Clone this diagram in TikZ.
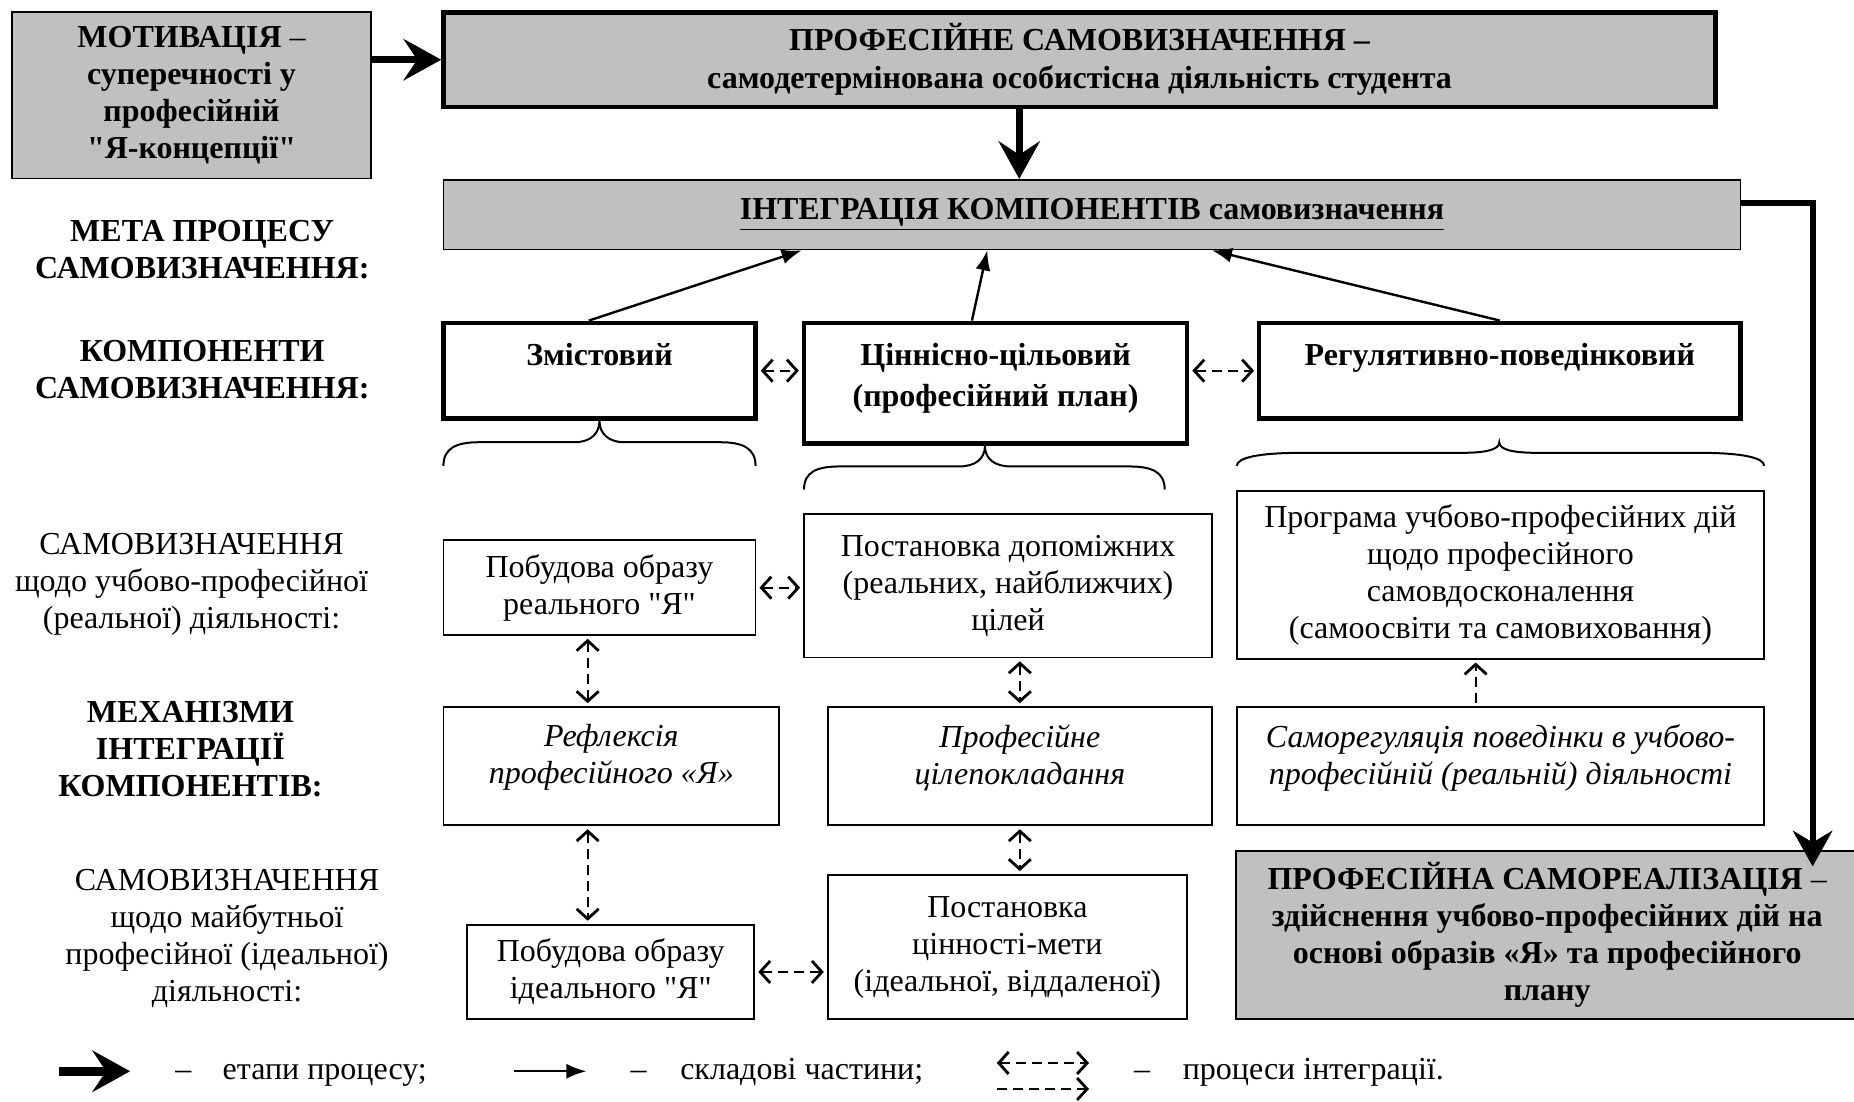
\documentclass[tikz,border=0pt]{standalone}
\usepackage{fontspec}
\setmainfont{Liberation Serif}[Ligatures=TeXOff]
\usetikzlibrary{arrows.meta}
\definecolor{boxgray}{RGB}{192,192,192}
\def\pxu{0.5912pt}
\begin{document}
\begin{tikzpicture}[x=0.5912pt, y=-0.5912pt,
  every node/.style={align=center, inner sep=0pt},
  rm/.style={font=\fontsize{16}{18.5}\selectfont},
  bfs/.style={font=\fontsize{16}{18.5}\selectfont\bfseries},
  its/.style={font=\fontsize{16}{18.5}\selectfont\itshape},
  box/.style={draw, line width=0.9pt, fill=white},
  thickbox/.style={draw, line width=2.2pt, fill=white},
  graybox/.style={draw, fill=boxgray},
  sz/.style 2 args={minimum width=#1*\pxu, minimum height=#2*\pxu},
  bigarrow/.style={line width=3.5pt, -{Stealth[length=19pt,width=21pt,inset=7pt,line width=0.5pt]}},
  rightarrow/.style={line width=3pt, line join=miter, -{Stealth[length=18pt,width=20pt,inset=6pt,line width=0.5pt]}},
  smallarrow/.style={line width=1.2pt, -{Latex[length=10pt,width=7.5pt]}},
  dashboth/.style={line width=1pt, dash pattern=on 5pt off 3pt, shorten >=1.5pt, shorten <=1.5pt,
    >={Straight Barb[length=5pt,width=11pt,line width=1.4pt]}, <->},
  dashone/.style={line width=1pt, dash pattern=on 5pt off 3pt, shorten >=1.5pt, shorten <=1.5pt,
    >={Straight Barb[length=5pt,width=11pt,line width=1.4pt]}, ->},
  brace/.style={line width=1pt}
]
\useasboundingbox (0,0) rectangle (1568,932);

% top row
\node[graybox, line width=0.9pt, sz={304}{141}, bfs] (motiv) at (162,80.5)
  {МОТИВАЦІЯ {\mdseries –}\\суперечності у\\професійній\\"Я-концепції"};
\node[graybox, line width=2.2pt, sz={1076}{80}, font=\fontsize{16}{19}\selectfont\bfseries] (top) at (913,50.5)
  {ПРОФЕСІЙНЕ САМОВИЗНАЧЕННЯ –\\самодетермінована особистісна діяльність студента};
\node[graybox, line width=0.9pt, sz={1097}{59}, bfs] (integ) at (923.5,181.5)
  {\underline{ІНТЕГРАЦІЯ КОМПОНЕНТІВ самовизначення}};

% components
\node[thickbox, sz={264}{81}, bfs, text height=10.8pt, text depth=16pt] (zm) at (507,313.5) {Змістовий};
\node[thickbox, sz={324}{102}, font=\fontsize{16}{20.7}\selectfont\bfseries, text depth=8.5pt] (cin) at (842,324)
  {Ціннісно-цільовий\\(професійний план)};
\node[thickbox, sz={407}{81}, bfs, text height=10.8pt, text depth=16pt] (reg) at (1268.5,313.5) {Регулятивно-поведінковий};

% row 1
\node[box, sz={264}{80}, rm] (real) at (507,497) {Побудова образу\\реального "Я"};
\node[box, sz={345}{121}, rm] (dop) at (852.5,495.5) {Постановка допоміжних\\(реальних, найближчих)\\цілей};
\node[box, sz={446}{142}, rm] (prog) at (1269,486)
  {Програма учбово-професійних дій\\щодо професійного\\самовдосконалення\\(самоосвіти та самовиховання)};

% row 2
\node[box, sz={284}{100}, its, text depth=11.9pt] (refl) at (517,648) {Рефлексія\\професійного «Я»};
\node[box, sz={325}{100}, its, text depth=11.9pt] (cil) at (862.5,648) {Професійне\\цілепокладання};
\node[box, sz={446}{100}, its, text depth=11.9pt] (samoreg) at (1269,648)
  {Саморегуляція поведінки в учбово-\\професійній (реальній) діяльності};

% row 3
\node[box, sz={243}{80}, rm] (ideal) at (516.5,822) {Побудова образу\\ідеального "Я"};
\node[box, sz={304}{122}, rm] (cinm) at (852,801) {Постановка\\цінності-мети\\(ідеальної, віддаленої)};
\node[graybox, line width=0.9pt, sz={527}{142}, bfs] (realiz) at (1308.5,791)
  {ПРОФЕСІЙНА САМОРЕАЛІЗАЦІЯ {\mdseries –}\\здійснення учбово-професійних дій на\\основі образів «Я» та професійного\\плану};

% left labels
\node[bfs] (lMeta) at (171,211.5) {МЕТА ПРОЦЕСУ\\САМОВИЗНАЧЕННЯ:};
\node[bfs] (lKomp) at (171,313) {КОМПОНЕНТИ\\САМОВИЗНАЧЕННЯ:};
\node[rm] (lReal) at (162,494) {САМОВИЗНАЧЕННЯ\\щодо учбово-професійної\\(реальної) діяльності:};
\node[bfs] (lMech) at (161,633.5) {МЕХАНІЗМИ\\ІНТЕГРАЦІЇ\\КОМПОНЕНТІВ:};
\node[rm] (lIdeal) at (192,794) {САМОВИЗНАЧЕННЯ\\щодо майбутньої\\професійної (ідеальної)\\діяльності:};

% stage arrows
\coordinate (cB) at (862,0);
\coordinate (cR) at (1533,172);
\draw[bigarrow] (motiv.east |- top.west) -- (top.west);
\draw[bigarrow] (top.south -| cB) -- (integ.north -| cB);
\draw[rightarrow, shorten >=-8pt] (integ.east |- cR) -| (realiz.north -| cR);

% component arrows
\draw[smallarrow] ([xshift=-9*\pxu]zm.north) -- ([xshift=-245.5*\pxu]integ.south);
\draw[smallarrow] ([xshift=-20*\pxu]cin.north) -- ([xshift=-88.5*\pxu]integ.south);
\draw[smallarrow] (reg.north) -- ([xshift=101.5*\pxu]integ.south);

% integration arrows
\coordinate (cA) at (497,0);
\coordinate (cS) at (1248,0);
\draw[dashboth] (zm.east) -- (cin.west |- zm.east);
\draw[dashboth] (cin.east |- reg.west) -- (reg.west);
\draw[dashboth] (real.east) -- (dop.west |- real.east);
\draw[dashboth] (ideal.east) -- (cinm.west |- ideal.east);
\draw[dashboth] (real.south -| cA) -- (refl.north -| cA);
\draw[dashboth] (refl.south -| cA) -- (ideal.north -| cA);
\draw[dashboth] (dop.south -| cil.north) -- (cil.north);
\draw[dashboth] (cil.south) -- (cinm.north -| cil.south);
\draw[dashone] (samoreg.north -| cS) -- (prog.south -| cS);

% braces
\draw[brace] (375,394) .. controls (375,379) and (386,374) .. (405,374) -- (486,374)
  .. controls (499,374) and (507,367) .. (507,356)
  .. controls (507,367) and (515,374) .. (528,374) -- (609,374)
  .. controls (628,374) and (639,379) .. (639,394);
\draw[brace] (680,414) .. controls (680,399) and (691,394.5) .. (710,394.5) -- (811,394.5)
  .. controls (825,394.5) and (833,388) .. (833,377)
  .. controls (833,388) and (841,394.5) .. (855,394.5) -- (955,394.5)
  .. controls (974,394.5) and (985,399) .. (985,414);
\draw[brace] (1046,394) .. controls (1046,387) and (1065,383) .. (1100,383) -- (1235,383)
  .. controls (1258,383) and (1268,380) .. (1268,374)
  .. controls (1268,380) and (1278,383) .. (1301,383) -- (1438,383)
  .. controls (1473,383) and (1492,387) .. (1492,394);

% legend
\coordinate (la1) at (50,906); \coordinate (la2) at (110,906);
\draw[bigarrow, line width=4.5pt] (la1) -- (la2);
\node[rm, anchor=base] (ld1) at (155,913) {–};
\node[rm, anchor=base west] (lt1) at (188,913) {етапи процесу;};
\coordinate (lb1) at (435,906); \coordinate (lb2) at (496,906);
\draw[smallarrow] (lb1) -- (lb2);
\node[rm, anchor=base] (ld2) at (540,913) {–};
\node[rm, anchor=base west] (lt2) at (575,913) {складові частини;};
\coordinate (lc1) at (843,899); \coordinate (lc2) at (921,899);
\coordinate (lc3) at (843,921); \coordinate (lc4) at (921,921);
\draw[dashboth, shorten <=0pt, shorten >=0pt] (lc1) -- (lc2);
\draw[dashone, shorten <=0pt, shorten >=0pt] (lc3) -- (lc4);
\node[rm, anchor=base] (ld3) at (966,913) {–};
\node[rm, anchor=base west] (lt3) at (1000,913) {процеси інтеграції.};
\end{tikzpicture}
\end{document}
